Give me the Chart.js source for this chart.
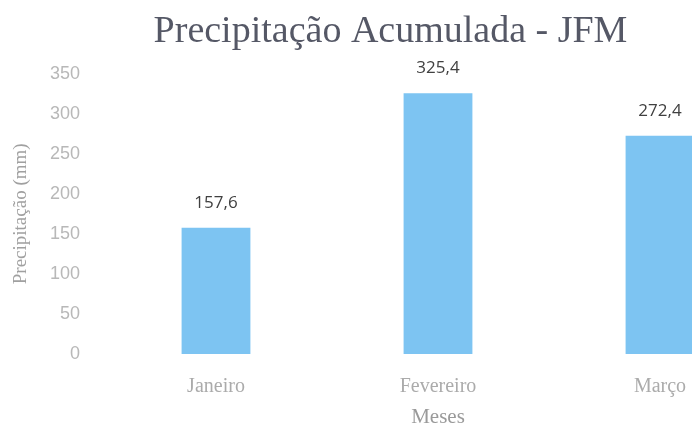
<!DOCTYPE html>
<html>
<head>
<meta charset="utf-8">
<script src="https://cdn.jsdelivr.net/npm/chart.js@4/dist/chart.umd.min.js"></script>
<style>
  html, body { margin: 0; padding: 0; background: #fff; overflow: hidden; }
  #wrap { width: 776px; height: 430px; }
</style>
</head>
<body>
<div id="wrap"><canvas id="precipChart"></canvas></div>
<script>
const months = ["Janeiro", "Fevereiro", "Março"];
const precipitation = [157.6, 325.4, 272.4];
const yTicks = [0, 50, 100, 150, 200, 250, 300, 350];

// value labels above bars, comma decimal like the original
const valueLabels = {
    id: "valueLabels",
    afterDatasetsDraw(chart) {
        const ctx = chart.ctx;
        const meta = chart.getDatasetMeta(0);
        ctx.save();
        ctx.font = "17px 'Open Sans'";
        ctx.fillStyle = "#404040";
        ctx.textAlign = "center";
        ctx.textBaseline = "middle";
        meta.data.forEach((bar, i) => {
            const txt = precipitation[i].toFixed(1).replace(".", ",");
            ctx.fillText(txt, bar.x, bar.y - 25);
        });
        ctx.restore();
    }
};

const ctx = document.getElementById("precipChart").getContext("2d");
new Chart(ctx, {
    type: "bar",
    data: {
        labels: months,
        datasets: [{
            label: "Precipitação",
            data: precipitation,
            backgroundColor: "#7dc4f2",
            borderWidth: 0,
            categoryPercentage: 1,
            barPercentage: 0.31
        }]
    },
    options: {
        responsive: true,
        maintainAspectRatio: false,
        animation: false,
        layout: { padding: { top: 9, left: 10, right: 5, bottom: 0 } },
        plugins: {
            legend: { display: false },
            tooltip: { enabled: false },
            title: {
                display: true,
                text: "Precipitação Acumulada - JFM",
                color: "#555866",
                font: { family: "'Liberation Serif'", size: 38, weight: "normal" },
                padding: { top: 0, bottom: 19 }
            }
        },
        scales: {
            x: {
                afterFit: (axis) => { axis.height = 76; },
                grid: { display: false, drawTicks: false },
                border: { display: false },
                ticks: {
                    color: "#ababab",
                    font: { family: "'Liberation Serif'", size: 20 },
                    padding: 21
                },
                title: {
                    display: true,
                    text: "Meses",
                    color: "#9a9a9a",
                    font: { family: "'Liberation Serif'", size: 21 },
                    padding: { top: 0, bottom: 0 }
                }
            },
            y: {
                min: 0,
                max: 350,
                afterBuildTicks: (axis) => { axis.ticks = yTicks.map(v => ({ value: v })); },
                afterFit: (axis) => { axis.width = 95; },
                grid: { display: false, drawTicks: false },
                border: { display: false },
                ticks: {
                    color: "#b8b8b8",
                    font: { family: "'Liberation Sans'", size: 18 },
                    padding: 25
                },
                title: {
                    display: true,
                    text: "Precipitação (mm)",
                    color: "#a0a0a0",
                    font: { family: "'Liberation Serif'", size: 19 },
                    padding: { top: 0, bottom: 0 }
                }
            }
        }
    },
    plugins: [valueLabels]
});
</script>
</body>
</html>
